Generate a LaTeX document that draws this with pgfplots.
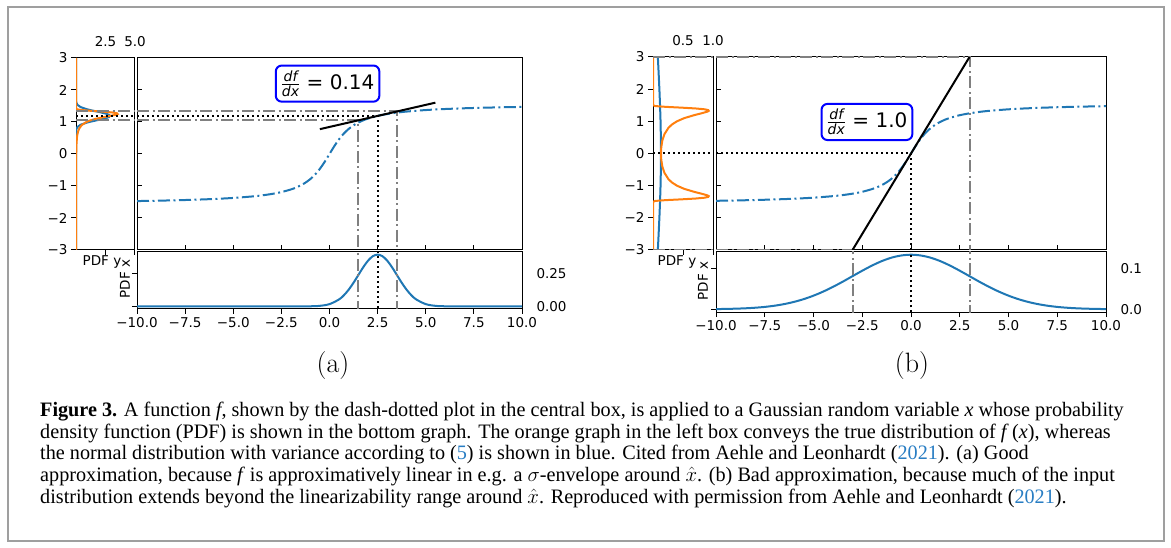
\documentclass[border=0pt]{standalone}
\usepackage{pgfplots}
\pgfplotsset{compat=1.18}
\usepackage{fontspec}
\newfontfamily\djv{DejaVu Sans}
\newfontfamily\capfont[FakeStretch=0.985]{Liberation Serif}
\definecolor{cz}{RGB}{31,119,180}
\definecolor{co}{RGB}{255,127,14}
\definecolor{linkblue}{RGB}{40,125,195}
\tikzset{
  fdd/.style={cz, line width=2pt, dash pattern=on 12pt off 3.5pt on 2pt off 3.5pt},
  gdd/.style={gray, line width=2pt, dash pattern=on 12pt off 3.5pt on 2pt off 3.5pt},
  dotl/.style={black, line width=2pt, dash pattern=on 2pt off 3pt},
}
\pgfplotsset{
  every axis/.append style={scale only axis, anchor=north west,
    font=\djv\fontsize{13.5}{15}\selectfont,
    axis line style={line width=1pt}, tick style={black, line width=1pt},
    major tick length=5pt, tick align=outside},
}
\newcommand{\dfdx}{$\frac{\mbox{\djv\itshape\fontsize{14}{14}\selectfont df}}{\mbox{\djv\itshape\fontsize{14}{14}\selectfont dx}}$}

% f(x) = arctan x
\pgfplotstableread{
x y
-10 -1.4711
-9 -1.4601
-8 -1.4464
-7 -1.4289
-6 -1.4056
-5 -1.3734
-4 -1.3258
-3.5 -1.2925
-3 -1.2490
-2.5 -1.1903
-2 -1.1071
-1.75 -1.0517
-1.5 -0.9828
-1.25 -0.8961
-1 -0.7854
-0.75 -0.6435
-0.5 -0.4636
-0.25 -0.2450
0 0
0.25 0.2450
0.5 0.4636
0.75 0.6435
1 0.7854
1.25 0.8961
1.5 0.9828
1.75 1.0517
2 1.1071
2.5 1.1903
3 1.2490
3.5 1.2925
4 1.3258
5 1.3734
6 1.4056
7 1.4289
8 1.4464
9 1.4601
10 1.4711
}\fdata

\begin{document}
\begin{tikzpicture}
\path (0pt,0pt) rectangle (1171pt,-548pt);
\draw[gray!75, line width=1.2pt] (8pt,-7pt) rectangle (1164pt,-541pt);

% ---------------- panel (a) ----------------
\begin{axis}[at={(76pt,-58pt)}, width=59pt, height=192pt,
  xmin=0, xmax=5, ymin=-3, ymax=3,
  xtick={2.5,5}, xticklabels={2.5,5.0}, xticklabel pos=right, xtick pos=left,
  xticklabel style={yshift=3pt},
  ytick={-3,-2,-1,0,1,2,3}, yticklabels={−3,−2,−1,0,1,2,3}, ytick pos=left]
\addplot[cz, line width=2pt] coordinates {(0,-3) (0,0.6387) (0.0063,0.7077) (0.032,0.7766) (0.127,0.8456) (0.391,0.9145) (0.939,0.9835) (1.324,1.0179) (1.754,1.0524) (2.183,1.0869) (2.552,1.1214) (2.803,1.1558) (2.892,1.1903) (2.803,1.2248) (2.552,1.2593) (2.183,1.2937) (1.754,1.3282) (1.324,1.3627) (0.939,1.3972) (0.391,1.4661) (0.127,1.5351) (0.032,1.6040) (0.0063,1.6730) (0,1.7419) (0,3)};
\addplot[co, line width=2pt] coordinates {(0,-3) (0,-1.5) (0.0004,-1) (0.005,-0.5) (0.0175,0) (0.0397,0.3) (0.0768,0.5) (0.1126,0.6) (0.1726,0.7) (0.2788,0.8) (0.4788,0.9) (0.8764,1.0) (1.2103,1.05) (1.6805,1.1) (2.308,1.15) (3.031,1.2) (3.343,1.225) (3.524,1.25) (3.459,1.275) (3.037,1.3) (2.233,1.325) (1.230,1.35) (0.4167,1.375) (0.0601,1.4) (0,1.45) (0,3)};
\addplot[gdd] coordinates {(0,1.0524) (5,1.0524)};
\addplot[gdd] coordinates {(0,1.3282) (5,1.3282)};
\addplot[dotl] coordinates {(0,1.1903) (5,1.1903)};
\end{axis}

\begin{axis}[at={(137pt,-58pt)}, width=385pt, height=192pt,
  xmin=-10, xmax=10, ymin=-3, ymax=3,
  xtick={-10,-7.5,...,10}, xticklabels={}, ytick={-3,-2,-1,0,1,2,3}, yticklabels={},
  tick align=inside, xtick pos=left, ytick pos=left]
\addplot[fdd, smooth] table[x=x, y=y] {\fdata};
\addplot[gdd] coordinates {(-10,1.0524) (1.5,1.0524) (1.5,-3)};
\addplot[gdd] coordinates {(-10,1.3282) (3.5,1.3282) (3.5,-3)};
\addplot[dotl] coordinates {(-10,1.1903) (2.5,1.1903) (2.5,-3)};
\addplot[black, line width=2pt] coordinates {(-0.5,0.7765) (5.5,1.6041)};
\node[draw=blue, line width=2pt, rounded corners=6pt, fill=white, inner xsep=5pt, inner ysep=5pt,
  font=\djv\fontsize{20}{20}\selectfont] at (axis cs:-0.1,2.2) {\dfdx{} = 0.14};
\end{axis}

\begin{axis}[at={(137pt,-252pt)}, width=385pt, height=57pt,
  xmin=-10, xmax=10, ymin=-0.02, ymax=0.419,
  xtick={-10,-7.5,...,10}, xticklabels={−10.0,−7.5,−5.0,−2.5,0.0,2.5,5.0,7.5,10.0}, xtick pos=left,
  ytick={0,0.25}, yticklabels={0.00,0.25}, yticklabel pos=right, ytick pos=left,
  yticklabel style={xshift=6pt}]
\addplot[cz, line width=2pt, smooth] coordinates {(-10,0) (-3,0) (-2,0) (-1.5,0.0001) (-1,0.0009) (-0.5,0.0044) (0,0.0175) (0.5,0.0540) (0.75,0.0863) (1,0.1295) (1.25,0.1826) (1.5,0.2420) (1.75,0.3011) (2,0.3521) (2.25,0.3867) (2.5,0.3989) (2.75,0.3867) (3,0.3521) (3.25,0.3011) (3.5,0.2420) (3.75,0.1826) (4,0.1295) (4.25,0.0863) (4.5,0.0540) (5,0.0175) (5.5,0.0044) (6,0.0009) (6.5,0.0001) (7,0) (8,0) (10,0)};
\addplot[gdd] coordinates {(1.5,-0.05) (1.5,0.45)};
\addplot[gdd] coordinates {(3.5,-0.05) (3.5,0.45)};
\addplot[dotl] coordinates {(2.5,-0.05) (2.5,0.45)};
\end{axis}

\node[font=\djv\fontsize{13.5}{15}\selectfont] at (102pt,-262pt) {PDF y};
\node[font=\djv\fontsize{13.5}{15}\selectfont, rotate=90] at (125pt,-279pt) {PDF x};
\node[font=\fontsize{28}{28}\selectfont] at (333pt,-366pt) {(a)};

% ---------------- panel (b) ----------------
\begin{axis}[at={(653pt,-57pt)}, width=60pt, height=193pt,
  xmin=0, xmax=1, ymin=-3, ymax=3,
  xtick={0.5,1}, xticklabels={0.5,1.0}, xticklabel pos=right, xtick pos=left,
  xticklabel style={yshift=3pt},
  ytick={-3,-2,-1,0,1,2,3}, yticklabels={−3,−2,−1,0,1,2,3}, ytick pos=left]
\addplot[cz, line width=2pt] coordinates {(0.0807,-3) (0.0940,-2.5) (0.1065,-2) (0.1174,-1.5) (0.1258,-1) (0.1311,-0.5) (0.1330,0) (0.1311,0.5) (0.1258,1) (0.1174,1.5) (0.1065,2) (0.0940,2.5) (0.0807,3)};
\addplot[co, line width=2pt] coordinates {(0,-3) (0,-1.571) (0.0004,-1.5) (0.0354,-1.475) (0.2111,-1.45) (0.4792,-1.425) (0.7113,-1.4) (0.8560,-1.375) (0.9205,-1.35) (0.9290,-1.325) (0.9039,-1.3) (0.8087,-1.25) (0.7013,-1.2) (0.5216,-1.1) (0.3981,-1.0) (0.3151,-0.9) (0.2583,-0.8) (0.1902,-0.6) (0.1552,-0.4) (0.1381,-0.2) (0.1330,0) (0.1381,0.2) (0.1552,0.4) (0.1902,0.6) (0.2583,0.8) (0.3151,0.9) (0.3981,1.0) (0.5216,1.1) (0.7013,1.2) (0.8087,1.25) (0.9039,1.3) (0.9290,1.325) (0.9205,1.35) (0.8560,1.375) (0.7113,1.4) (0.4792,1.425) (0.2111,1.45) (0.0354,1.475) (0.0004,1.5) (0,1.571) (0,3)};
\addplot[gdd] coordinates {(0,3) (1,3)};
\addplot[gdd] coordinates {(0,-3) (1,-3)};
\addplot[dotl] coordinates {(0,0) (1,0)};
\end{axis}

\begin{axis}[at={(716pt,-57pt)}, width=390pt, height=193pt,
  xmin=-10, xmax=10, ymin=-3, ymax=3,
  xtick={-10,-7.5,...,10}, xticklabels={}, ytick={-3,-2,-1,0,1,2,3}, yticklabels={},
  tick align=inside, xtick pos=left, ytick pos=left]
\addplot[fdd, smooth] table[x=x, y=y] {\fdata};
\addplot[gdd] coordinates {(-10,3) (3,3) (3,-3)};
\addplot[gdd] coordinates {(-10,-3) (-3,-3)};
\addplot[dotl] coordinates {(-10,0) (0,0) (0,-3)};
\addplot[black, line width=2pt] coordinates {(-3,-3) (3,3)};
\node[draw=blue, line width=2pt, rounded corners=6pt, fill=white, inner xsep=5pt, inner ysep=5pt,
  font=\djv\fontsize{20}{20}\selectfont] at (axis cs:-2.26,0.98) {\dfdx{} = 1.0};
\end{axis}

\begin{axis}[at={(716pt,-252pt)}, width=390pt, height=60pt,
  xmin=-10, xmax=10, ymin=-0.0066, ymax=0.1396,
  xtick={-10,-7.5,...,10}, xticklabels={−10.0,−7.5,−5.0,−2.5,0.0,2.5,5.0,7.5,10.0}, xtick pos=left,
  ytick={0,0.1}, yticklabels={0.0,0.1}, yticklabel pos=right, ytick pos=left,
  yticklabel style={xshift=6pt}]
\addplot[cz, line width=2pt, smooth] coordinates {(-10,0.0005) (-9.5,0.0009) (-9,0.0015) (-8.5,0.0024) (-8,0.0038) (-7.5,0.0058) (-7,0.0087) (-6.5,0.0127) (-6,0.0180) (-5.5,0.0248) (-5,0.0332) (-4.5,0.0432) (-4,0.0547) (-3.5,0.0673) (-3,0.0807) (-2.5,0.0940) (-2,0.1065) (-1.5,0.1174) (-1,0.1258) (-0.5,0.1311) (0,0.1330) (0.5,0.1311) (1,0.1258) (1.5,0.1174) (2,0.1065) (2.5,0.0940) (3,0.0807) (3.5,0.0673) (4,0.0547) (4.5,0.0432) (5,0.0332) (5.5,0.0248) (6,0.0180) (6.5,0.0127) (7,0.0087) (7.5,0.0058) (8,0.0038) (8.5,0.0024) (9,0.0015) (9.5,0.0009) (10,0.0005)};
\addplot[gdd] coordinates {(-3,-0.02) (-3,0.16)};
\addplot[gdd] coordinates {(3,-0.02) (3,0.16)};
\addplot[dotl] coordinates {(0,-0.02) (0,0.16)};
\end{axis}

\node[font=\djv\fontsize{13.5}{15}\selectfont] at (677pt,-262pt) {PDF y};
\node[font=\djv\fontsize{13.5}{15}\selectfont, rotate=90] at (703pt,-281pt) {PDF x};
\node[font=\fontsize{28}{28}\selectfont] at (912pt,-366pt) {(b)};

% ---------------- caption ----------------
\begin{scope}[every node/.style={anchor=base west, inner sep=0pt, font=\capfont\fontsize{20.5}{22}\selectfont}]
\node at (40pt,-416pt) {\textbf{Figure 3.} A function \textit{f}, shown by the dash-dotted plot in the central box, is applied to a Gaussian random variable \textit{x} whose probability};
\node at (40pt,-438pt) {density function (PDF) is shown in the bottom graph. The orange graph in the left box conveys the true distribution of \textit{f}\,(\textit{x}), whereas};
\node at (40pt,-459pt) {the normal distribution with variance according to (\textcolor{linkblue}{5}) is shown in blue. Cited from Aehle and Leonhardt (\textcolor{linkblue}{2021}). (a) Good};
\node at (40pt,-481pt) {approximation, because \textit{f} is approximatively linear in e.g. a $\sigma$-envelope around $\hat{x}$. (b) Bad approximation, because much of the input};
\node at (40pt,-503pt) {distribution extends beyond the linearizability range around $\hat{x}$. Reproduced with permission from Aehle and Leonhardt (\textcolor{linkblue}{2021}).};
\end{scope}
\end{tikzpicture}
\end{document}
